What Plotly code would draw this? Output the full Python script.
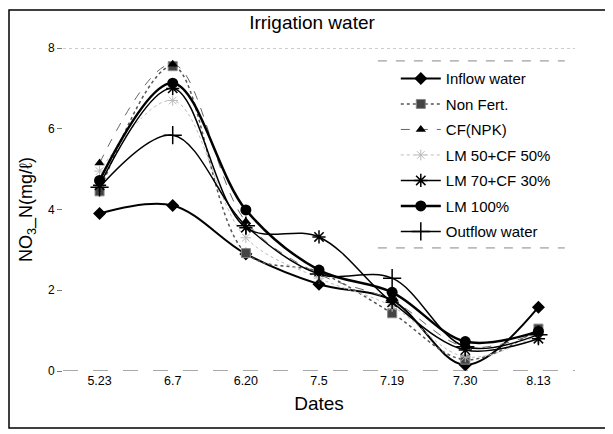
import plotly.graph_objects as go

dates = ["5.23", "6.7", "6.20", "7.5", "7.19", "7.30", "8.13"]
inflow = [3.9, 4.1, 2.9, 2.15, 1.75, 0.15, 1.58]
non_fert = [4.45, 7.55, 2.92, 2.45, 1.43, 0.28, 1.05]
cf_npk = [5.15, 7.6, 3.7, 2.4, 1.75, 0.6, 0.95]
lm50 = [4.95, 6.7, 3.3, 2.3, 1.6, 0.35, 0.9]
lm70 = [4.6, 7.0, 3.55, 3.32, 1.7, 0.52, 0.8]
lm100 = [4.72, 7.13, 3.99, 2.5, 1.95, 0.73, 0.98]
outflow = [4.55, 5.84, 3.6, 2.4, 2.3, 0.6, 0.9]

series = [
    ("Inflow water", inflow, dict(color="black", width=2, dash="solid"),
     dict(symbol="diamond", size=10, color="black")),
    ("Non Fert.", non_fert, dict(color="#555555", width=1.5, dash="dot"),
     dict(symbol="square", size=9, color="#444444", line=dict(color="#888", width=1))),
    ("CF(NPK)", cf_npk, dict(color="#666666", width=1, dash="dash"),
     dict(symbol="triangle-up", size=9, color="black")),
    ("LM 50+CF 50%", lm50, dict(color="#bbbbbb", width=1, dash="dot"),
     dict(symbol="asterisk-open", size=9, color="#bbbbbb", line=dict(color="#bbbbbb", width=1))),
    ("LM 70+CF 30%", lm70, dict(color="black", width=1.5, dash="solid"),
     dict(symbol="asterisk-open", size=11, color="black", line=dict(color="black", width=1.5))),
    ("LM 100%", lm100, dict(color="black", width=2.5, dash="solid"),
     dict(symbol="circle", size=11, color="black")),
    ("Outflow water", outflow, dict(color="black", width=1.5, dash="solid"),
     dict(symbol="cross-thin-open", size=13, color="black", line=dict(color="black", width=1.5))),
]

fig = go.Figure()
for i, (name, vals, ln, mk) in enumerate(series):
    fig.add_trace(go.Scatter(
        x=dates, y=vals, name=name, mode="lines+markers",
        line=dict(shape="spline", smoothing=1.0, **ln),
        marker=mk, legendgroup=f"g{i}",
    ))

fig.update_layout(
    width=613, height=434,
    margin=dict(l=55, r=46, t=40, b=71),
    paper_bgcolor="white", plot_bgcolor="white",
    font=dict(family="Liberation Sans, Arial, sans-serif", color="black", size=12),
    title=dict(text="Irrigation water", x=(304 - 55) / 512, xref="paper", xanchor="center",
               y=1 - 14 / 434, yanchor="middle", font=dict(size=19)),
    showlegend=True,
    legend=dict(x=0.65, y=0.956, xanchor="left", yanchor="top",
                bgcolor="rgba(255,255,255,0)", borderwidth=0,
                font=dict(size=15), tracegroupgap=3, traceorder="grouped",
                itemwidth=40),
    xaxis=dict(type="category", range=[-0.5, 6.5], showgrid=False, showline=False,
               zeroline=False, ticks="", tickfont=dict(size=12.5),
               title=dict(text="Dates", font=dict(size=19), standoff=10)),
    yaxis=dict(range=[0, 8], tickvals=[0, 2, 4, 6, 8], showgrid=False, zeroline=False,
               showline=False, ticks="outside", ticklen=5, tickcolor="#777777",
               tickfont=dict(size=12),
               title=dict(text="NO<sub>3</sub>_N(mg/ℓ)", font=dict(size=18), standoff=10)),
    shapes=[
        dict(type="line", xref="paper", yref="y", x0=0, x1=1, y0=0, y1=0,
             line=dict(color="#555555", width=1.2, dash="longdash")),
        dict(type="line", xref="paper", yref="y", x0=0, x1=1, y0=8, y1=8,
             line=dict(color="#999999", width=1, dash="dot")),
        dict(type="line", xref="paper", yref="paper", x0=0.615, x1=0.98, y0=0.96, y1=0.96,
             line=dict(color="#888888", width=1, dash="dash")),
        dict(type="line", xref="paper", yref="paper", x0=0.615, x1=0.98, y0=0.381, y1=0.381,
             line=dict(color="#888888", width=1, dash="dash")),
        dict(type="rect", xref="paper", yref="paper",
             x0=-54 / 512, x1=545 / 512, y0=-57 / 323, y1=361 / 323,
             line=dict(color="black", width=1.5)),
    ],
)

fig.write_html("out.html")
